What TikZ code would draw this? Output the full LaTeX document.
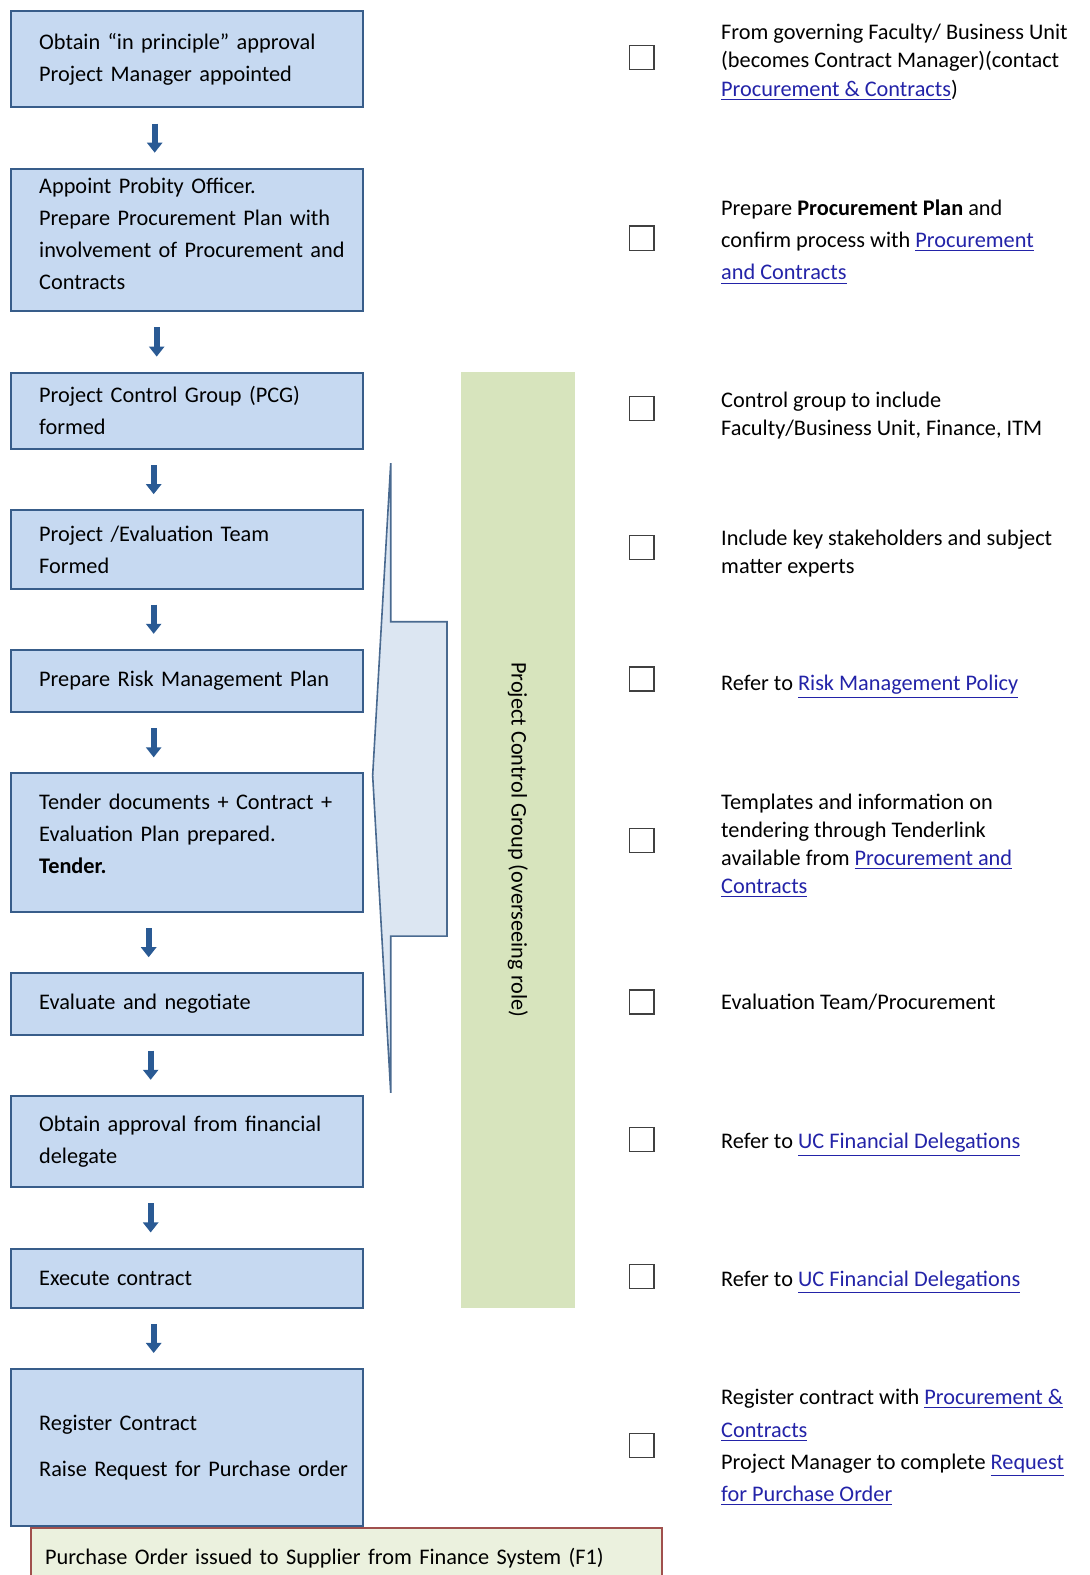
\documentclass[tikz,border=0pt]{standalone}
\usepackage{fontspec}
\setmainfont{Carlito}
\usetikzlibrary{positioning,arrows.meta}

\definecolor{boxfill}{HTML}{C6D9F1}
\definecolor{boxedge}{HTML}{385D8A}
\definecolor{arrowblue}{HTML}{2A5A94}
\definecolor{barfill}{HTML}{D7E4BD}
\definecolor{ordfill}{HTML}{EBF1DE}
\definecolor{ordedge}{HTML}{A0504D}
\definecolor{calloutfill}{HTML}{DCE6F2}
\definecolor{calloutedge}{HTML}{4A6A90}
\definecolor{linkblue}{HTML}{2323A8}

\newcommand{\lnk}[1]{\textcolor{linkblue}{\underline{#1}}}

\tikzset{
  stepbox/.style={draw=boxedge, line width=1pt, fill=boxfill, text width=170pt, inner xsep=2.5pt,
    outer sep=0pt, minimum height=#1, align=left, font=\fontsize{11.1pt}{16pt}\selectfont,
    execute at begin node={\leftskip=11.5pt}},
  flowarrow/.style={draw=arrowblue, line width=3pt, -{Triangle[width=7.5pt,length=5pt]},
    shorten <=8pt, shorten >=8pt},
  chk/.style={draw=black!75, line width=0.6pt, minimum size=12pt, inner sep=0pt},
  note/.style={inner sep=0pt, align=left, font=\fontsize{11.1pt}{14pt}\selectfont},
  notewide/.style={note, font=\fontsize{11.1pt}{16pt}\selectfont},
}

\begin{document}
\begin{tikzpicture}[x=0.5pt, y=-0.5pt, node distance=30.5pt]
\useasboundingbox (0,0) rectangle (1085,1568);
\clip (0,0) rectangle (1085,1568);

% steps down the left
\node[stepbox=48pt] (b1) at (186,59) {Obtain “in principle” approval\\Project Manager appointed};
\node[stepbox=71pt, below=of b1] (b2) {Appoint Probity Officer.\\Prepare Procurement Plan with\\involvement of Procurement and\\Contracts\rule[-6pt]{0pt}{0pt}};
\node[stepbox=38pt, below=of b2] (b3) {Project Control Group (PCG)\\formed};
\node[stepbox=39pt, below=of b3] (b4) {Project /Evaluation Team\\Formed};
\node[stepbox=31pt, below=of b4] (b5) {Prepare Risk Management Plan};
\node[stepbox=69pt, below=of b5] (b6) {Tender documents + Contract +\\Evaluation Plan prepared.\\\textbf{Tender.}\rule[-9pt]{0pt}{0pt}};
\node[stepbox=30.5pt, below=of b6] (b7) {Evaluate and negotiate};
\node[stepbox=45.5pt, below=of b7] (b8) {Obtain approval from financial\\delegate};
\node[stepbox=29.5pt, below=of b8] (b9) {Execute contract};
\node[stepbox=78pt, below=of b9] (b10) {Register Contract\\[7pt]Raise Request for Purchase order};

\foreach \a/\b/\x in {b1/b2/154, b2/b3/156, b3/b4/153, b4/b5/153, b5/b6/153,
                      b6/b7/148, b7/b8/150, b8/b9/150, b9/b10/153}
  \draw[flowarrow] (\a.south -| \x,0) -- (\b.north -| \x,0);

\node[draw=ordedge, line width=1pt, fill=ordfill, anchor=north west, minimum width=314pt,
  minimum height=30pt, text width=300pt, inner xsep=7pt, align=left,
  font=\fontsize{11.1pt}{16pt}\selectfont] (po) at (30,1520)
  {Purchase Order issued to Supplier from Finance System (F1)};

% overseeing group
\draw[calloutedge, fill=calloutfill, line width=0.8pt, line join=miter]
  (389,461) -- (389,619) -- (445,619) -- (445,932) -- (389,932) -- (389,1088) -- (371,772) -- cycle;
\node[fill=barfill, rotate=-90, minimum width=466pt, minimum height=56.5pt, inner sep=0pt,
  font=\fontsize{11.1pt}{14pt}\selectfont] (pcg) at (515.5,836) {Project Control Group (overseeing role)};

% checklist
\foreach \i in {1,...,10}
  \node[chk, yshift=1pt] (c\i) at (b\i.east -| 639,0) {};

\node[note, right=33pt of c1, yshift=-2.5pt] (n1) {From governing Faculty/ Business Unit\\(becomes Contract Manager)(contact\\\lnk{Procurement \& Contracts})};
\node[notewide, right=33pt of c2, yshift=-2pt] (n2) {Prepare \textbf{Procurement Plan} and\\confirm process with \lnk{Procurement}\\\lnk{and Contracts}};
\node[note, right=33pt of c3, yshift=-3.5pt] (n3) {Control group to include\\Faculty/Business Unit, Finance, ITM};
\node[note, right=33pt of c4, yshift=-3pt] (n4) {Include key stakeholders and subject\\matter experts};
\node[note, right=33pt of c5, yshift=-4pt] (n5) {Refer to \lnk{Risk Management Policy}};
\node[note, right=33pt of c6, yshift=-2.5pt] (n6) {Templates and information on\\tendering through Tenderlink\\available from \lnk{Procurement and}\\\lnk{Contracts}};
\node[note, right=33pt of c7] (n7) {Evaluation Team/Procurement};
\node[note, right=33pt of c8, yshift=-2.5pt] (n8) {Refer to \lnk{UC Financial Delegations}};
\node[note, right=33pt of c9, yshift=-3pt] (n9) {Refer to \lnk{UC Financial Delegations}};
\node[notewide, right=33pt of c10, yshift=-1pt] (n10) {Register contract with \lnk{Procurement \&}\\\lnk{Contracts}\\Project Manager to complete \lnk{Request}\\\lnk{for Purchase Order}};
\end{tikzpicture}
\end{document}
